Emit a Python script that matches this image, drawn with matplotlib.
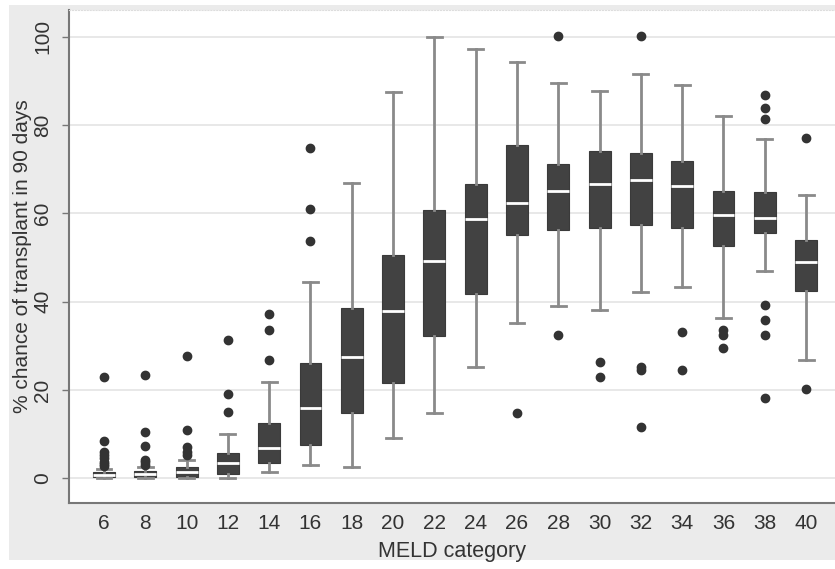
import matplotlib
matplotlib.use("Agg")
import matplotlib.pyplot as plt

plt.rcParams['font.family'] = ['Liberation Sans', 'DejaVu Sans']

# MELD categories
categories = [6, 8, 10, 12, 14, 16, 18, 20, 22, 24, 26, 28, 30, 32, 34, 36, 38, 40]

# Box statistics (% chance of transplant in 90 days)
whisker_low = [0.0, 0.0, 0.0, 0.0, 1.4, 3.0, 2.6, 9.1, 14.9, 25.3, 35.1, 39.1, 38.1, 42.3, 43.3, 36.4, 47.0, 26.8]
q1 =          [0.3, 0.3, 0.3, 1.0, 3.4, 7.5, 14.7, 21.7, 32.2, 41.7, 55.1, 56.2, 56.8, 57.5, 56.6, 52.7, 55.5, 42.4]
median =      [0.8, 0.9, 1.4, 3.4, 6.9, 16.0, 27.4, 37.9, 49.2, 58.7, 62.4, 65.1, 66.6, 67.6, 66.2, 59.6, 58.9, 48.9]
q3 =          [1.4, 1.6, 2.5, 5.7, 12.6, 26.2, 38.5, 50.7, 60.8, 66.6, 75.5, 71.2, 74.1, 73.8, 71.9, 65.1, 64.8, 54.0]
whisker_high = [2.2, 2.5, 4.2, 10.0, 21.9, 44.5, 66.8, 87.6, 100.0, 97.2, 94.4, 89.5, 87.7, 91.5, 89.2, 82.1, 76.9, 64.2]
outliers = [
    [23.0, 8.5, 6.0, 5.2, 4.5, 3.8, 3.2, 2.7],
    [23.5, 10.5, 7.4, 4.2, 3.6, 3.0],
    [27.7, 10.9, 7.0, 6.0, 5.2],
    [31.3, 19.0, 15.1],
    [37.2, 33.7, 26.8],
    [74.8, 61.1, 53.7],
    [],
    [],
    [],
    [],
    [14.7],
    [100.2, 32.5],
    [26.3, 23.0],
    [100.2, 25.2, 24.5, 11.7],
    [33.2, 24.5],
    [33.7, 32.5, 29.6],
    [86.8, 84.0, 81.4, 39.3, 35.9, 32.5, 18.3],
    [77.0, 20.2],
]

y_ticks = [0, 20, 40, 60, 80, 100]

stats = []
for i, c in enumerate(categories):
    stats.append(dict(label=str(c), whislo=whisker_low[i], q1=q1[i], med=median[i],
                      q3=q3[i], whishi=whisker_high[i], fliers=outliers[i]))

fig = plt.figure(figsize=(8.35, 5.69), dpi=100)
fig.patch.set_facecolor('white')

# Stata-like gray graph region (background axes)
bg = fig.add_axes([9 / 835, (569 - 560) / 569, 1 - 9 / 835, (560 - 5) / 569], zorder=-10)
bg.set_facecolor('#ebebeb')
bg.set_xticks([])
bg.set_yticks([])
for s in bg.spines.values():
    s.set_visible(False)

ax = fig.add_axes([69 / 835, (569 - 503) / 569, 1 - 69 / 835, 493 / 569], zorder=1)
ax.set_facecolor('white')

text_color = '#333333'
box_color = '#424242'
whisk_color = '#8a8a8a'
positions = list(range(len(categories)))
ax.bxp(stats, positions=positions, widths=0.53, patch_artist=True,
       boxprops=dict(facecolor=box_color, edgecolor='#3a3a3a', linewidth=0.8),
       medianprops=dict(color='white', linewidth=2.0),
       whiskerprops=dict(color=whisk_color, linewidth=2.0),
       capprops=dict(color=whisk_color, linewidth=2.0),
       capwidths=0.36,
       flierprops=dict(marker='o', markerfacecolor='#333333', markeredgecolor='#333333',
                       markersize=6.0),
       zorder=3)

ax.set_xlim(-0.847, 17.70)
ax.set_ylim(-5.6, 106.1)
ax.set_yticks(y_ticks)
ax.set_yticklabels([str(t) for t in y_ticks], rotation=90, va='center',
                   fontsize=15, color=text_color)
ax.set_xticks(positions)
ax.set_xticklabels([str(c) for c in categories], fontsize=15, color=text_color)
ax.tick_params(axis='x', length=0, pad=8)
ax.tick_params(axis='y', length=5, width=1, color='#777777', pad=7)
ax.yaxis.grid(True, color='#e4e4e4', linewidth=1.2, zorder=0)
ax.set_axisbelow(True)

for s in ['left', 'bottom']:
    ax.spines[s].set_color('#777777')
    ax.spines[s].set_linewidth(1.5)
ax.spines['right'].set_visible(False)
ax.spines['top'].set_color('#dddddd')
ax.spines['top'].set_linestyle(':')

ax.set_xlabel('MELD category', fontsize=15.5, color=text_color, labelpad=6)
ax.set_ylabel('% chance of transplant in 90 days', fontsize=15, color=text_color, labelpad=1)

fig.savefig('out.png', dpi=100, facecolor=fig.get_facecolor())
